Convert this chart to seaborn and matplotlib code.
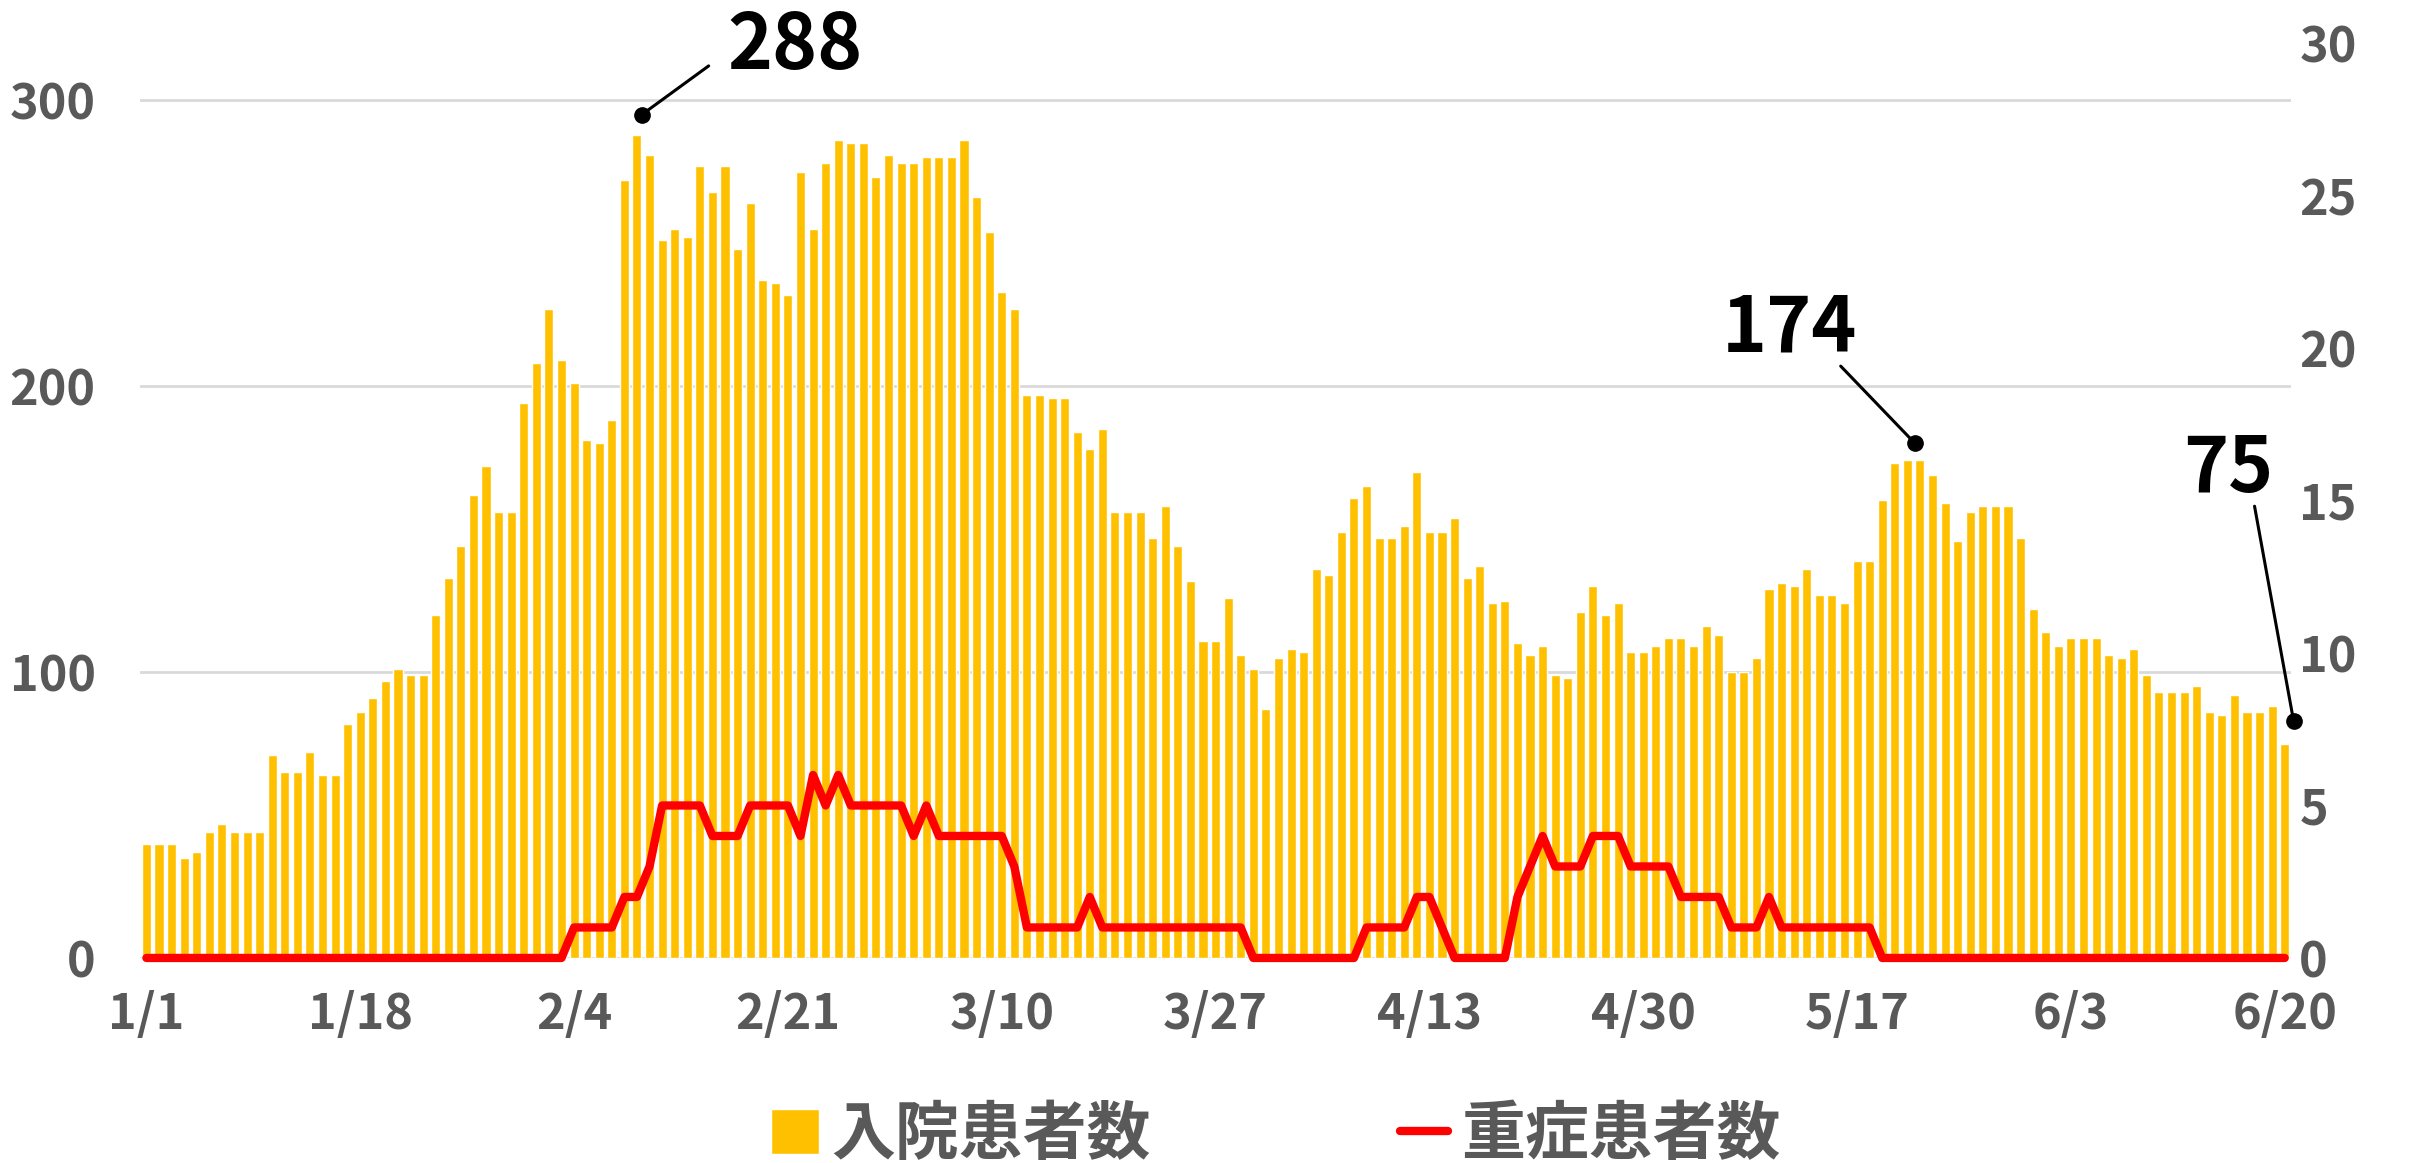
import matplotlib
matplotlib.use("Agg")
import matplotlib.pyplot as plt
import seaborn as sns
import pandas as pd
import numpy as np
from matplotlib.patches import Patch
from matplotlib.lines import Line2D

# daily values 2021/1/1 - 6/20
hospitalized = [
    40, 40, 40, 35, 37, 44, 47, 44, 44, 44,
    71, 65, 65, 72, 64, 64, 82, 86, 91, 97,
    101, 99, 99, 120, 133, 144, 162, 172, 156, 156,
    194, 208, 227, 209, 201, 181, 180, 188, 272, 288,
    281, 251, 255, 252, 277, 268, 277, 248, 264, 237,
    236, 232, 275, 255, 278, 286, 285, 285, 273, 281,
    278, 278, 280, 280, 280, 286, 266, 254, 233, 227,
    197, 197, 196, 196, 184, 178, 185, 156, 156, 156,
    147, 158, 144, 132, 111, 111, 126, 106, 101, 87,
    105, 108, 107, 136, 134, 149, 161, 165, 147, 147,
    151, 170, 149, 149, 154, 133, 137, 124, 125, 110,
    106, 109, 99, 98, 121, 130, 120, 124, 107, 107,
    109, 112, 112, 109, 116, 113, 100, 100, 105, 129,
    131, 130, 136, 127, 127, 124, 139, 139, 160, 173,
    174, 174, 169, 159, 146, 156, 158, 158, 158, 147,
    122, 114, 109, 112, 112, 112, 106, 105, 108, 99,
    93, 93, 93, 95, 86, 85, 92, 86, 86, 88, 75,
]
severe = (
    [0] * 34 + [1] * 4 + [2, 2, 3] + [5] * 4 + [4] * 3 + [5] * 4 + [4, 6, 5, 6]
    + [5] * 5 + [4, 5] + [4] * 6 + [3] + [1] * 5 + [2] + [1] * 12 + [0] * 9
    + [1] * 4 + [2, 2, 1] + [0] * 5 + [2, 3, 4, 3, 3, 3, 4, 4, 4, 3, 3, 3, 3]
    + [2] * 4 + [1] * 3 + [2] + [1] * 8 + [0] * 33
)
dates = pd.date_range("2021-01-01", "2021-06-20")
day_labels = [f"{d.month}/{d.day}" for d in dates]

BAR = "#FFC000"
RED = "#FF0000"
GRAY = "#595959"

df = pd.DataFrame({"day": day_labels, "hosp": hospitalized, "severe": severe})

sns.set_theme(style="white")
plt.rcParams["font.family"] = ["Noto Sans CJK JP", "DejaVu Sans"]

fig = plt.figure(figsize=(24.2, 11.63), dpi=100)
ax = fig.add_axes([0.0579, 0.1763, 0.8888, 0.7867])

sns.barplot(data=df, x="day", y="hosp", color=BAR, saturation=1, width=0.72,
            ax=ax, zorder=2)
ax.set_ylim(0, 320)
ax.set_yticks([0, 100, 200, 300])
ax.grid(axis="y", color="#D9D9D9", lw=2)
ax.set_axisbelow(True)
ax.set_xticks(range(0, len(df), 17))
ax.set_xticklabels(day_labels[::17])
ax.set_xlabel("")
ax.set_ylabel("")
ax.tick_params(axis="y", length=0, labelsize=35, labelcolor=GRAY, pad=32)
ax.tick_params(axis="x", length=0, labelsize=35, labelcolor=GRAY, pad=23)

ax2 = ax.twinx()
sns.lineplot(x=np.arange(len(df)), y=df["severe"], ax=ax2, color=RED, lw=6,
             solid_joinstyle="round", solid_capstyle="round", clip_on=False)
ax2.set_ylim(0, 30)
ax2.set_yticks(range(0, 31, 5))
ax2.set_ylabel("")
ax2.tick_params(axis="y", length=0, labelsize=35, labelcolor=GRAY, pad=6)
ax.set_xlim(-0.5, len(df) - 0.5)

for a in (ax, ax2):
    for s in a.spines.values():
        s.set_visible(False)
    for lab in a.get_xticklabels() + a.get_yticklabels():
        lab.set_fontweight("bold")

# callouts: (index, dot dx, dot dy, line-end dx, line-end dy, text dx, text baseline dy)
vals = np.array(hospitalized)
p1 = int(np.argmax(vals))
p2 = 100 + int(np.argmax(vals[100:]))
p3 = len(vals) - 1
callouts = [
    (p1, 0.4, 7, 5.7, 24, 12.6, 23),
    (p2, 0.6, 6, -5.3, 33, -9.4, 38),
    (p3, 0.7, 8, -2.4, 83, -4.5, 88),
]
for i, ddx, ddy, lx, ly, tx, ty in callouts:
    v = vals[i]
    ax.plot([i + ddx, i + lx], [v + ddy, v + ly], color="black", lw=2.2,
            zorder=5, clip_on=False)
    ax.plot(i + ddx, v + ddy, "o", color="black", ms=11, zorder=6, clip_on=False)
    ax.text(i + tx, v + ty, str(v), fontsize=55, fontweight="bold", color="black",
            ha="center", va="baseline", zorder=6, clip_on=False)

handles = [Patch(facecolor=BAR, label="入院患者数"),
           Line2D([0], [0], color=RED, lw=6, label="重症患者数")]
fig.legend(handles=handles, loc="center", bbox_to_anchor=(0.527, 0.024), ncol=2,
           frameon=False, prop={"size": 46, "weight": "bold"}, labelcolor=GRAY,
           handlelength=0.75, handleheight=0.7, handletextpad=0.2,
           columnspacing=3.9, borderpad=0)

fig.savefig("out.png", dpi=100)
